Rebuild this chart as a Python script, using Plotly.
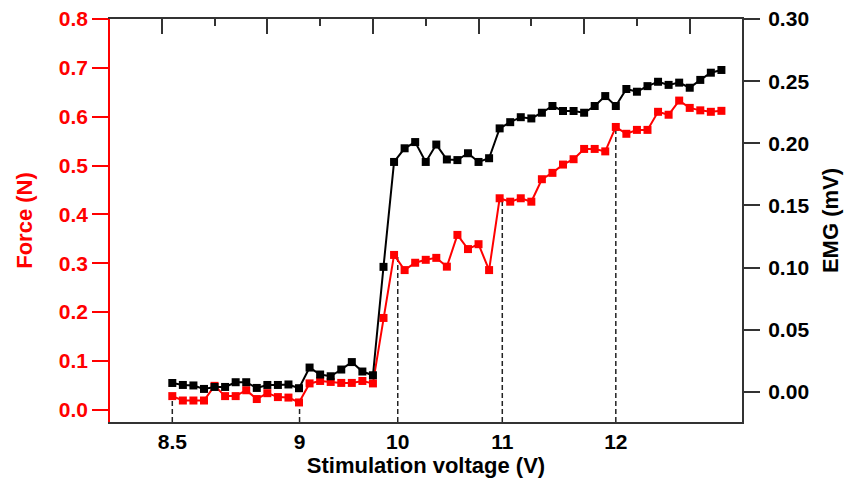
import plotly.graph_objects as go

# ---- data ----
point_index = list(range(53))

force_N = [0.028, 0.019, 0.019, 0.019, 0.049, 0.028, 0.028, 0.040, 0.022, 0.034,
           0.026, 0.025, 0.015, 0.054, 0.059, 0.057, 0.055, 0.055, 0.059, 0.054,
           0.188, 0.317, 0.286, 0.301, 0.307, 0.311, 0.293, 0.358, 0.329, 0.339,
           0.286, 0.433, 0.426, 0.433, 0.426, 0.472, 0.485, 0.502, 0.513, 0.534,
           0.534, 0.529, 0.579, 0.565, 0.573, 0.573, 0.610, 0.604, 0.633, 0.618,
           0.613, 0.610, 0.612]

emg_mV = [0.0072, 0.0056, 0.0052, 0.0024, 0.0040, 0.0040, 0.0078, 0.0078, 0.0032, 0.0056,
          0.0056, 0.0060, 0.0030, 0.0196, 0.0140, 0.0126, 0.0180, 0.0240, 0.0164, 0.0134,
          0.1006, 0.1850, 0.1960, 0.2010, 0.1850, 0.1990, 0.1870, 0.1865, 0.1920, 0.1850,
          0.1880, 0.2120, 0.2170, 0.2210, 0.2200, 0.2246, 0.2300, 0.2260, 0.2260, 0.2246,
          0.2300, 0.2380, 0.2300, 0.2437, 0.2415, 0.2460, 0.2495, 0.2470, 0.2488, 0.2447,
          0.2510, 0.2568, 0.2590]

tick_labels = ["8.5", "9", "10", "11", "12"]
tick_positions = [0, 12.05, 21.35, 31.25, 42]
tick_point = [0, 12, 21, 31, 42]   # data point each voltage marker refers to

force_ticks = [0.0, 0.1, 0.2, 0.3, 0.4, 0.5, 0.6, 0.7, 0.8]
emg_ticks = [0.00, 0.05, 0.10, 0.15, 0.20, 0.25, 0.30]

x_range = [-5.9, 53.95]
force_range = [-0.025, 0.8]
emg_range = [-0.0242, 0.30]

RED = "#ff0000"
DARK = "#333333"
FONT = "Liberation Sans"

fig = go.Figure()

# dashed guide lines from the axis up to the force point
for pos, pi in zip(tick_positions, tick_point):
    fig.add_trace(go.Scatter(
        x=[pos, pos], y=[force_range[0], force_N[pi]],
        mode="lines", line=dict(color="#222222", width=1.5, dash="5px,3px"),
        hoverinfo="skip", showlegend=False, xaxis="x", yaxis="y"))

fig.add_trace(go.Scatter(
    x=point_index, y=force_N, mode="lines+markers",
    line=dict(color=RED, width=2),
    marker=dict(symbol="square", size=8, color=RED),
    name="Force", showlegend=False, xaxis="x", yaxis="y"))

fig.add_trace(go.Scatter(
    x=point_index, y=emg_mV, mode="lines+markers",
    line=dict(color="black", width=2),
    marker=dict(symbol="square", size=8, color="black"),
    name="EMG", showlegend=False, xaxis="x", yaxis="y2"))

# invisible trace so the top axis is drawn
fig.add_trace(go.Scatter(x=[x_range[0]], y=[force_range[0]], mode="markers",
                         marker=dict(opacity=0), hoverinfo="skip",
                         showlegend=False, xaxis="x2", yaxis="y"))

fig.update_layout(
    width=861, height=486,
    margin=dict(l=110, r=119, t=19, b=64),
    paper_bgcolor="white", plot_bgcolor="white",
    font=dict(family=FONT, color="black"),
    showlegend=False,
    xaxis=dict(
        range=x_range, tickmode="array", tickvals=tick_positions, ticktext=tick_labels,
        ticks="", showgrid=False, zeroline=False, automargin=False,
        showline=True, linecolor=DARK, linewidth=2,
        tickfont=dict(family=FONT, size=21, color="black", weight="bold"),
        ticklabelstandoff=0,
        title=dict(text="<b>Stimulation voltage (V)</b>",
                   font=dict(family=FONT, size=22, color="black"), standoff=2),
    ),
    xaxis2=dict(
        range=x_range, overlaying="x", side="top", anchor="y", automargin=False,
        tickmode="linear", tick0=-1, dtick=10, ticks="inside", ticklen=15,
        tickwidth=1.5, tickcolor=DARK,
        minor=dict(tick0=-1, dtick=5, ticks="inside", ticklen=7, tickwidth=1.5, tickcolor=DARK),
        showticklabels=False, showgrid=False, zeroline=False,
        showline=True, linecolor=DARK, linewidth=2,
    ),
    yaxis=dict(
        range=force_range, tickmode="array", tickvals=force_ticks, tickformat=".1f",
        ticks="outside", ticklen=16, tickwidth=1.5, tickcolor=RED,
        showgrid=False, zeroline=False, automargin=False,
        showline=True, linecolor=RED, linewidth=1.5,
        tickfont=dict(family=FONT, size=21, color=RED, weight="bold"),
        ticklabelstandoff=0,
        title=dict(text="<b>Force (N)</b>", font=dict(family=FONT, size=22, color=RED), standoff=20),
    ),
    yaxis2=dict(
        range=emg_range, overlaying="y", side="right", anchor="x", automargin=False,
        tickmode="array", tickvals=emg_ticks, tickformat=".2f",
        ticks="outside", ticklen=16, tickwidth=1.5, tickcolor=DARK,
        showgrid=False, zeroline=False,
        showline=True, linecolor=DARK, linewidth=2,
        tickfont=dict(family=FONT, size=21, color="black", weight="bold"),
        ticklabelstandoff=4,
        title=dict(text="<b>EMG (mV)</b>", font=dict(family=FONT, size=22, color="black"), standoff=14),
    ),
)

fig.write_html("out.html")
